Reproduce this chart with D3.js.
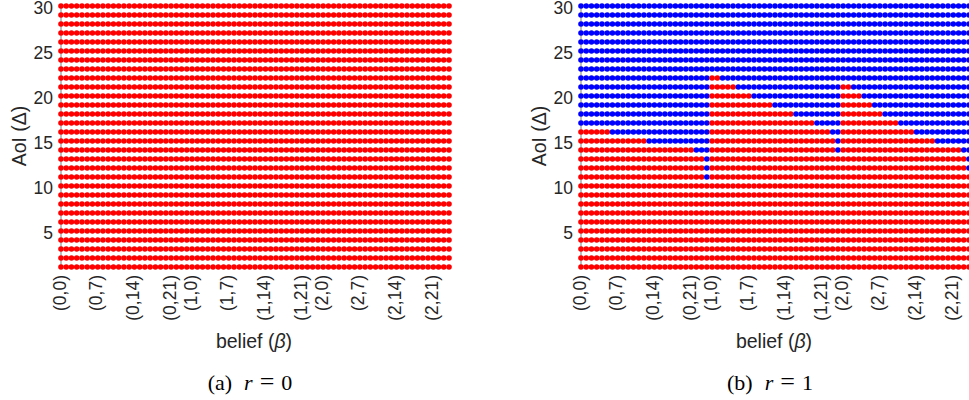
<!DOCTYPE html>
<html lang="en">
<head>
    <meta charset="UTF-8">
    <title>AoI vs belief decision maps</title>
    <script src="https://cdnjs.cloudflare.com/ajax/libs/d3/7.8.5/d3.min.js"></script>
    <style>
        body {
            margin: 0;
            padding: 0;
            background: #fff;
        }
        .tick-label {
            font-family: "Liberation Sans", Arial, sans-serif;
            font-size: 17.5px;
            fill: #262626;
        }
        .axis-title {
            font-family: "Liberation Sans", Arial, sans-serif;
            font-size: 19.5px;
            fill: #262626;
        }
        .caption {
            font-family: "Liberation Serif", "Times New Roman", serif;
            font-size: 22px;
            fill: #000;
        }
    </style>
</head>
<body>
    <svg id="chart" width="969" height="400"></svg>

    <script>
        // belief states (i, j): i = 0..2, j = 0..24
        const beliefGroups = [0, 1, 2];
        const beliefSteps = d3.range(0, 25);
        const aoiLevels = d3.range(1, 31);

        const xTickLabels = ["(0,0)", "(0,7)", "(0,14)", "(0,21)", "(1,0)", "(1,7)",
                             "(1,14)", "(1,21)", "(2,0)", "(2,7)", "(2,14)", "(2,21)"];
        const yTickValues = [5, 10, 15, 20, 25, 30];

        // last j that is red (action 1) for each AoI level 1..30, per group i
        // -1 means the whole row of that group is blue
        const lastRedR0 = [
            [24,24,24,24,24,24,24,24,24,24,24,24,24,24,24,24,24,24,24,24,24,24,24,24,24,24,24,24,24,24],
            [24,24,24,24,24,24,24,24,24,24,24,24,24,24,24,24,24,24,24,24,24,24,24,24,24,24,24,24,24,24],
            [24,24,24,24,24,24,24,24,24,24,24,24,24,24,24,24,24,24,24,24,24,24,24,24,24,24,24,24,24,24]
        ];
        const lastRedR1 = [
            [24,24,24,24,24,24,24,24,24,24,23,23,23,21,12, 5,-1,-1,-1,-1,-1,-1,-1,-1,-1,-1,-1,-1,-1,-1],
            [24,24,24,24,24,24,24,24,24,24,24,24,24,23,23,22,19,15,11, 7, 4, 1,-1,-1,-1,-1,-1,-1,-1,-1],
            [24,24,24,24,24,24,24,24,24,24,24,23,23,22,17,13,10, 7, 5, 3, 1,-1,-1,-1,-1,-1,-1,-1,-1,-1]
        ];

        const panels = [
            { offset: 0,   lastRed: lastRedR0, label: "a", r: "0" },
            { offset: 520, lastRed: lastRedR1, label: "b", r: "1" }
        ];

        const beliefs = [];
        beliefGroups.forEach(i => beliefSteps.forEach(j => beliefs.push({ i, j, key: `(${i},${j})` })));

        const svg = d3.select("#chart");

        panels.forEach(p => {
            const g = svg.append("g").attr("transform", `translate(${p.offset},0)`);

            const x = d3.scalePoint()
                .domain(beliefs.map(b => b.key))
                .range([61, 449]);
            const y = d3.scaleLinear()
                .domain([1, 30])
                .range([267, 6]);

            // y axis line + inward ticks
            g.append("line")
                .attr("x1", 61).attr("x2", 61)
                .attr("y1", y(30)).attr("y2", y(1))
                .attr("stroke", "#808080").attr("stroke-width", 1);
            g.selectAll(".ytick")
                .data(yTickValues)
                .join("line")
                .attr("x1", 61).attr("x2", 65)
                .attr("y1", d => y(d)).attr("y2", d => y(d))
                .attr("stroke", "#808080");

            // points
            const cells = [];
            beliefs.forEach(b => aoiLevels.forEach((a, k) => {
                cells.push({ key: b.key, aoi: a, red: b.j <= p.lastRed[b.i][k] });
            }));
            g.selectAll("circle")
                .data(cells)
                .join("circle")
                .attr("cx", d => x(d.key))
                .attr("cy", d => y(d.aoi))
                .attr("r", 2.8)
                .attr("fill", d => d.red ? "#ff0000" : "#0000ff");

            // y tick labels
            g.selectAll(".ylab")
                .data(yTickValues)
                .join("text")
                .attr("class", "tick-label")
                .attr("x", 53)
                .attr("y", d => y(d) + 3)
                .attr("text-anchor", "end")
                .attr("dominant-baseline", "middle")
                .text(d => d);

            // x tick labels (rotated)
            g.selectAll(".xlab")
                .data(xTickLabels)
                .join("text")
                .attr("class", "tick-label")
                .attr("transform", d => `translate(${x(d)},275) rotate(-90)`)
                .attr("text-anchor", "end")
                .attr("dominant-baseline", "middle")
                .text(d => d);

            // axis titles
            const xt = g.append("text")
                .attr("class", "axis-title")
                .attr("x", 254).attr("y", 348)
                .attr("text-anchor", "middle");
            xt.append("tspan").text("belief (");
            xt.append("tspan").attr("font-style", "italic").text("β");
            xt.append("tspan").text(")");

            g.append("text")
                .attr("class", "axis-title")
                .attr("transform", "translate(26,136) rotate(-90)")
                .attr("text-anchor", "middle")
                .text("AoI (Δ)");

            // caption
            const cap = g.append("text")
                .attr("class", "caption")
                .attr("x", 250).attr("y", 390)
                .attr("text-anchor", "middle");
            cap.append("tspan").text(`(${p.label})`);
            cap.append("tspan").attr("dx", 12).attr("font-style", "italic").text("r");
            cap.append("tspan").attr("dx", 7).attr("font-size", "26px").text("=");
            cap.append("tspan").attr("dx", 7).text(p.r);
        });
    </script>
</body>
</html>
